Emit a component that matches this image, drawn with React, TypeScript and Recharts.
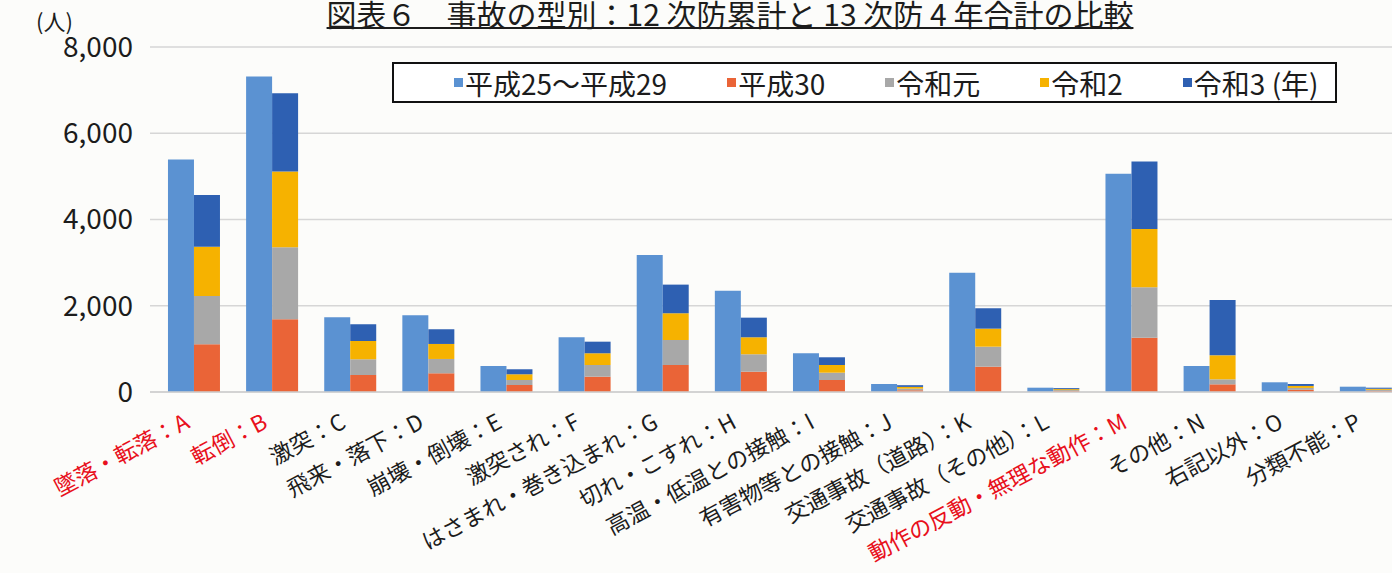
import { Bar, BarChart, CartesianGrid, Legend, XAxis, YAxis } from "recharts";

// 事故の型別 categories (A〜P)
const categories = [
  "墜落・転落：A",
  "転倒：B",
  "激突：C",
  "飛来・落下：D",
  "崩壊・倒壊：E",
  "激突され：F",
  "はさまれ・巻き込まれ：G",
  "切れ・こすれ：H",
  "高温・低温との接触：I",
  "有害物等との接触：J",
  "交通事故（道路）：K",
  "交通事故（その他）：L",
  "動作の反動・無理な動作：M",
  "その他：N",
  "右記以外：O",
  "分類不能：P",
];

// categories drawn in red
const highlighted = ["墜落・転落：A", "転倒：B", "動作の反動・無理な動作：M"];

// 12次防累計 (H25〜H29)
const h25to29 = [5390, 7316, 1733, 1780, 603, 1269, 3179, 2350, 898, 186, 2768, 100, 5058, 603, 225, 123];
// 13次防 yearly values, stacked
const h30 = [1107, 1687, 394, 434, 162, 355, 626, 471, 278, 40, 587, 22, 1260, 178, 50, 25];
const r1 = [1120, 1670, 365, 332, 116, 271, 580, 404, 170, 38, 464, 22, 1169, 116, 45, 25];
const r2 = [1144, 1754, 424, 348, 133, 272, 620, 394, 178, 40, 418, 23, 1353, 557, 45, 25];
const r3 = [1200, 1819, 388, 341, 116, 269, 664, 455, 179, 40, 473, 23, 1561, 1284, 46, 25];

const seriesKeys = ["h25to29", "h30", "r1", "r2", "r3"];
const seriesNames = ["平成25〜平成29", "平成30", "令和元", "令和2", "令和3 (年)"];
const seriesColors = ["#5b92d2", "#ea6437", "#a8a8a8", "#f6b200", "#2e60b2"];
const yTicks = [0, 2000, 4000, 6000, 8000];

const data = categories.map((name, i) => ({
  name,
  h25to29: h25to29[i],
  h30: h30[i],
  r1: r1[i],
  r2: r2[i],
  r3: r3[i],
}));

const FONT = "'Noto Sans CJK JP', 'Noto Sans', sans-serif";

const CategoryTick = (props: any) => {
  const { x, y, payload } = props;
  const color = highlighted.includes(payload.value) ? "#e8101c" : "#1c1c1c";
  return (
    <g transform={`translate(${x - 3},${y + 27})`}>
      <text
        textAnchor="end"
        transform="rotate(-28)"
        fill={color}
        fontSize={22.5}
        fontFamily={FONT}
      >
        {payload.value}
      </text>
    </g>
  );
};

// legend drawn in series order, boxed
const LegendBox = () => (
  <div
    style={{
      display: "flex",
      alignItems: "center",
      gap: 60,
      paddingLeft: 60,
      width: "100%",
      height: "100%",
      boxSizing: "border-box",
      border: "2px solid #111",
      background: "#fff",
      fontFamily: FONT,
      fontSize: 28,
      color: "#1c1c1c",
    }}
  >
    {seriesNames.map((name, i) => (
      <span key={name} style={{ display: "flex", alignItems: "center", whiteSpace: "nowrap" }}>
        <span style={{ width: 9, height: 9, background: seriesColors[i], marginRight: 2 }} />
        {name}
      </span>
    ))}
  </div>
);

const App = () => {
  return (
    <div
      style={{
        position: "absolute",
        left: 0,
        top: 0,
        width: 1392,
        height: 573,
        overflow: "hidden",
        background: "#fcfcfa",
      }}
    >
      <div
        style={{
          position: "absolute",
          left: 290,
          top: 0,
          width: 880,
          textAlign: "center",
          fontFamily: FONT,
          fontSize: 30,
          lineHeight: "26px",
          color: "#1c1c1c",
          textDecoration: "underline",
          textDecorationThickness: 2,
          textUnderlineOffset: 1,
          whiteSpace: "nowrap",
        }}
      >
        図表６　事故の型別：12 次防累計と 13 次防 4 年合計の比較
      </div>
      <div
        style={{
          position: "absolute",
          left: 36,
          top: 4,
          fontFamily: FONT,
          fontSize: 22,
          color: "#1c1c1c",
        }}
      >
        (人)
      </div>
      <BarChart
        width={1410}
        height={573}
        data={data}
        margin={{ top: 47, right: 5, left: 0, bottom: 0 }}
        barCategoryGap="16.6%"
        barGap={0}
      >
        <CartesianGrid vertical={false} stroke="#d6d6d6" strokeWidth={1.5} />
        <XAxis
          dataKey="name"
          interval={0}
          height={181}
          padding={{ left: 5, right: 0 }}
          tickLine={false}
          axisLine={{ stroke: "#cfcfcf", strokeWidth: 1.5 }}
          tick={<CategoryTick />}
        />
        <YAxis
          width={150}
          domain={[0, 8000]}
          ticks={yTicks}
          axisLine={false}
          tickLine={false}
          tickMargin={11}
          tickFormatter={(v: number) => v.toLocaleString("en-US")}
          tick={{ fill: "#1c1c1c", fontSize: 28, fontFamily: FONT }}
        />
        <Legend
          layout="horizontal"
          verticalAlign="middle"
          align="center"
          wrapperStyle={{ left: 392, top: 62, width: 945, height: 41 }}
          content={<LegendBox />}
        />
        {seriesKeys.map((key, i) => (
          <Bar
            key={key}
            dataKey={key}
            name={seriesNames[i]}
            stackId={i === 0 ? "a" : "b"}
            fill={seriesColors[i]}
            isAnimationActive={false}
          />
        ))}
      </BarChart>
    </div>
  );
};

export default App;
